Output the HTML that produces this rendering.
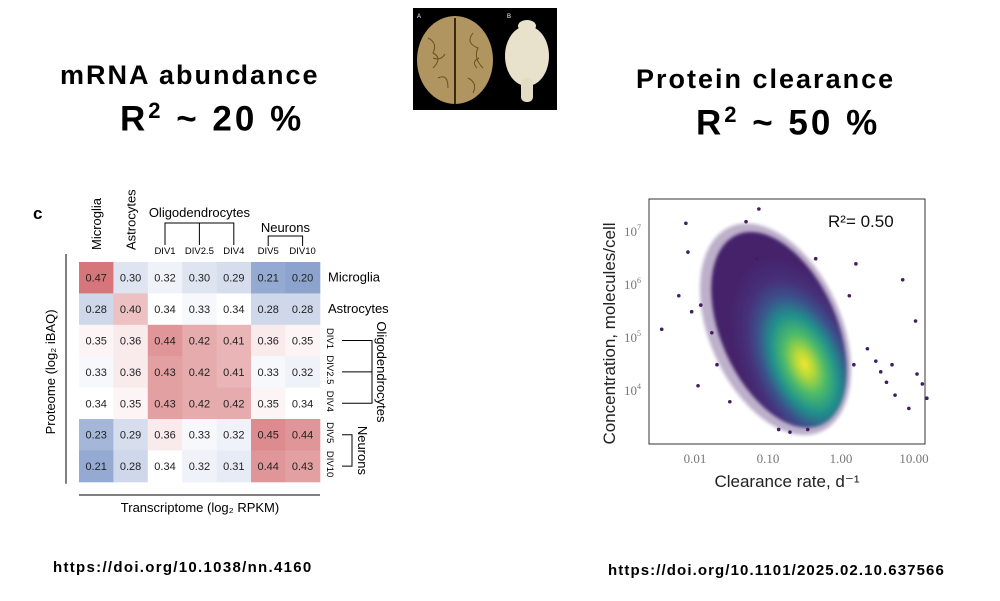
<!DOCTYPE html>
<html><head><meta charset="utf-8"><style>
body{margin:0;background:#fff;width:1000px;height:601px;overflow:hidden;position:relative;font-family:"Liberation Sans",sans-serif}
.t{position:absolute;white-space:nowrap;color:#000}
</style></head><body>
<div class="t" style="left:60px;top:60px;font-size:27px;font-weight:bold;letter-spacing:2px">mRNA abundance</div>
<div class="t" style="left:120px;top:98px;font-size:35px;font-weight:bold;letter-spacing:3px">R<sup style="font-size:22px">2</sup> ~ 20 %</div>
<div class="t" style="left:636px;top:64px;font-size:27px;font-weight:bold;letter-spacing:2px">Protein clearance</div>
<div class="t" style="left:696px;top:102px;font-size:35px;font-weight:bold;letter-spacing:3px">R<sup style="font-size:22px">2</sup> ~ 50 %</div>
<div class="t" style="left:53px;top:559px;font-size:15px;font-weight:bold;letter-spacing:1.3px">https://doi.org/10.1038/nn.4160</div>
<div class="t" style="left:608px;top:562px;font-size:15px;font-weight:bold;letter-spacing:1.1px">https://doi.org/10.1101/2025.02.10.637566</div>

<svg style="position:absolute;left:413px;top:8px" width="144" height="102">
<rect width="144" height="102" fill="#000"/>
<ellipse cx="42" cy="52" rx="38" ry="44" fill="#b09560"/>
<line x1="42" y1="10" x2="42" y2="96" stroke="#3a2a10" stroke-width="2"/>
<path d="M15 30 q10 5 5 15 q10 5 0 15 M60 25 q-8 10 5 15 q-5 10 5 20 M25 70 q10 -5 10 10 M55 70 q10 5 5 15 M20 50 q8 3 12 -4 M66 50 q-8 4 -2 10" stroke="#6b5120" fill="none"/>
<ellipse cx="114" cy="48" rx="22" ry="30" fill="#e8e2cc"/>
<ellipse cx="114" cy="18" rx="9" ry="6" fill="#e8e2cc"/>
<rect x="108" y="70" width="12" height="24" rx="5" fill="#e3dcc4"/>
<text x="4" y="10" fill="#fff" font-size="6">A</text><text x="94" y="10" fill="#fff" font-size="6">B</text>
</svg>

<svg id="hm" style="position:absolute;left:0;top:190px" width="420" height="340" font-family="Liberation Sans, sans-serif"></svg>
<svg id="sc" style="position:absolute;left:590px;top:190px" width="360" height="310" font-family="Liberation Sans, sans-serif"></svg>

<script>
const NS="http://www.w3.org/2000/svg";
function mk(p,tag,a,txt){const e=document.createElementNS(NS,tag);for(const k in a)e.setAttribute(k,a[k]);if(txt!==undefined)e.textContent=txt;p.appendChild(e);return e;}

// ---------- heatmap data ----------
const colLabels=["Microglia","Astrocytes","DIV1","DIV2.5","DIV4","DIV5","DIV10"];
const rowLabels=["Microglia","Astrocytes","DIV1","DIV2.5","DIV4","DIV5","DIV10"];
const row0=[0.47,0.30,0.32,0.30,0.29,0.21,0.20];
const row1=[0.28,0.40,0.34,0.33,0.34,0.28,0.28];
const row2=[0.35,0.36,0.44,0.42,0.41,0.36,0.35];
const row3=[0.33,0.36,0.43,0.42,0.41,0.33,0.32];
const row4=[0.34,0.35,0.43,0.42,0.42,0.35,0.34];
const row5=[0.23,0.29,0.36,0.33,0.32,0.45,0.44];
const row6=[0.21,0.28,0.34,0.32,0.31,0.44,0.43];
const hmRows=[row0,row1,row2,row3,row4,row5,row6];

const hm=document.getElementById('hm');
const X0=79,Y0=72,CW=34.4,CH=31.4;
function colX(i){return X0+i*CW;}
function rowY(j){return Y0+j*CH;}
function hcol(v){
  const mid=0.34;
  if(v>=mid){const t=Math.min(1,(v-mid)/0.13);return `rgb(${Math.round(255-(255-215)*t)},${Math.round(255-(255-118)*t)},${Math.round(255-(255-122)*t)})`;}
  const t=Math.min(1,(mid-v)/0.14);return `rgb(${Math.round(255-(255-140)*t)},${Math.round(255-(255-163)*t)},${Math.round(255-(255-206)*t)})`;
}
hmRows.forEach((r,j)=>r.forEach((v,i)=>{
  const c=mk(hm,'rect',{x:colX(i),y:rowY(j),width:CW+0.5,height:CH+0.5,fill:hcol(v)});
  
  
  const t=mk(hm,'text',{x:colX(i)+CW/2,y:rowY(j)+CH/2+4,'text-anchor':'middle','font-size':11,fill:'#222'},v.toFixed(2));
  
  
}));
mk(hm,'text',{x:33,y:29,'font-size':17,'font-weight':'bold'},'c');
[0,1].forEach(i=>{const t=mk(hm,'text',{transform:`translate(${colX(i)+CW/2+5},60) rotate(-90)`,'font-size':13},colLabels[i]);});
for(let i=2;i<7;i++){const t=mk(hm,'text',{x:colX(i)+CW/2,y:64,'text-anchor':'middle','font-size':9.5},colLabels[i]);}
mk(hm,'text',{x:colX(3)+CW/2,y:27,'text-anchor':'middle','font-size':13},'Oligodendrocytes');
mk(hm,'text',{x:colX(5)+CW,y:42,'text-anchor':'middle','font-size':13},'Neurons');
mk(hm,'path',{d:`M${colX(2)+CW/2} 55 V33 H${colX(4)+CW/2} V55 M${colX(3)+CW/2} 33 V55`,stroke:'#000',fill:'none'});
mk(hm,'path',{d:`M${colX(5)+CW/2} 56 V46 H${colX(6)+CW/2} V56`,stroke:'#000',fill:'none'});
[0,1].forEach(j=>{const t=mk(hm,'text',{x:328,y:rowY(j)+CH/2+4,'font-size':13},rowLabels[j]);});
for(let j=2;j<7;j++){const t=mk(hm,'text',{transform:`translate(327,${rowY(j)+CH/2-2}) rotate(90)`,'font-size':9.5,'text-anchor':'middle'},rowLabels[j]);}
mk(hm,'path',{d:`M342 ${rowY(2)+CH/2} H372 V${rowY(4)+CH/2} H342 M342 ${rowY(3)+CH/2} H372`,stroke:'#000',fill:'none'});
mk(hm,'text',{transform:`translate(377,${rowY(3)+CH/2}) rotate(90)`,'font-size':13,'text-anchor':'middle'},'Oligodendrocytes');
mk(hm,'path',{d:`M342 ${rowY(5)+CH/2} H352 V${rowY(6)+CH/2} H342`,stroke:'#000',fill:'none'});
mk(hm,'text',{transform:`translate(358,${rowY(6)}) rotate(90)`,'font-size':13,'text-anchor':'middle'},'Neurons');
mk(hm,'line',{x1:66,y1:rowY(0)-8,x2:66,y2:rowY(7)+2,stroke:'#000'});
mk(hm,'text',{transform:`translate(55,${rowY(3.5)}) rotate(-90)`,'font-size':13,'text-anchor':'middle'},'Proteome (log₂ iBAQ)');
mk(hm,'line',{x1:79,y1:305,x2:320,y2:305,stroke:'#000'});
mk(hm,'text',{x:200,y:322,'font-size':13,'text-anchor':'middle'},'Transcriptome (log₂ RPKM)');

// ---------- scatter ----------
const xTicks=[0.01,0.1,1,10];
const xTickLabels=["0.01","0.10","1.00","10.00"];
const yTicks=[1e4,1e5,1e6,1e7];
const yTickLabels=["4","5","6","7"];
const cloudCenterRate=[0.25];
const cloudCenterConc=[2.4e4];
const outRates=[0.0035,0.006,0.0075,0.008,0.009,0.011,0.012,0.017,0.02,0.03,0.05,0.07,0.075,0.14,0.2,0.35,0.45,1.3,1.5,1.6,2.3,3,3.5,4.2,5,5.5,7,8.5,10.5,11,13,15];
const outConcs=[1.4e5,6e5,1.4e7,4e6,3e5,1.2e4,4e5,1.2e5,3e4,6e3,1.5e7,3e6,2.6e7,1.8e3,1.6e3,1.8e3,3e6,6e5,3e4,2.4e6,6e4,3.5e4,2.2e4,1.4e4,3e4,8e3,1.2e6,4.5e3,2e5,2e4,1.3e4,7e3];

const sc=document.getElementById('sc');
const L=59,T=9,R=335,B=254;
function sx(v){return 105+(Math.log10(v)+2)*73;}
function sy(v){return 200-(Math.log10(v)-4)*53;}
mk(sc,'rect',{x:L,y:T,width:R-L,height:B-T,fill:'#fff',stroke:'#333','stroke-width':1});
const defs=mk(sc,'defs',{});
const g=mk(defs,'radialGradient',{id:'dens',cx:'0.58',cy:'0.7',r:'0.55'});
[[0,'#f3e532'],[0.12,'#b5d93a'],[0.28,'#4cba6a'],[0.45,'#21918c'],[0.62,'#3b528b'],[0.78,'#46307a'],[1,'#44236a']].forEach(s=>mk(g,'stop',{offset:s[0],'stop-color':s[1]}));
const f=mk(defs,'filter',{id:'bl'});mk(f,'feGaussianBlur',{stdDeviation:1.5});
const cxp=sx(cloudCenterRate[0])-18, cyp=sy(cloudCenterConc[0])-40;
// outer scattered halo
const halo=mk(sc,'ellipse',{cx:cxp-3,cy:cyp-2,rx:66,ry:112,fill:'#44236a','fill-opacity':0.35,transform:`rotate(-24 ${cxp} ${cyp})`,filter:'url(#bl)'});


const cloud=mk(sc,'ellipse',{cx:cxp,cy:cyp,rx:58,ry:104,fill:'url(#dens)',transform:`rotate(-24 ${cxp} ${cyp})`,filter:'url(#bl)'});


outRates.forEach((r,i)=>{
  const d=mk(sc,'circle',{cx:sx(r),cy:sy(outConcs[i]),r:1.8,fill:'#3f1f60'});
  
  
});
xTicks.forEach((v,i)=>{const t=mk(sc,'text',{x:sx(v),y:273,'text-anchor':'middle','font-size':13,fill:'#777','font-family':'Liberation Serif, serif'},xTickLabels[i]);});
yTicks.forEach((v,i)=>{const t=mk(sc,'text',{x:34,y:sy(v)+5,'font-size':13,fill:'#777','font-family':'Liberation Serif, serif'},'10');
 mk(t,'tspan',{dy:-6,'font-size':8},yTickLabels[i]);});
mk(sc,'text',{x:197,y:297,'text-anchor':'middle','font-size':17,fill:'#222'},'Clearance rate, d⁻¹');
mk(sc,'text',{transform:`translate(25,${(T+B)/2+12}) rotate(-90)`,'text-anchor':'middle','font-size':17,fill:'#222'},'Concentration, molecules/cell');
mk(sc,'text',{x:238,y:37,'font-size':17,fill:'#111'},'R²= 0.50');
</script>
</body></html>
